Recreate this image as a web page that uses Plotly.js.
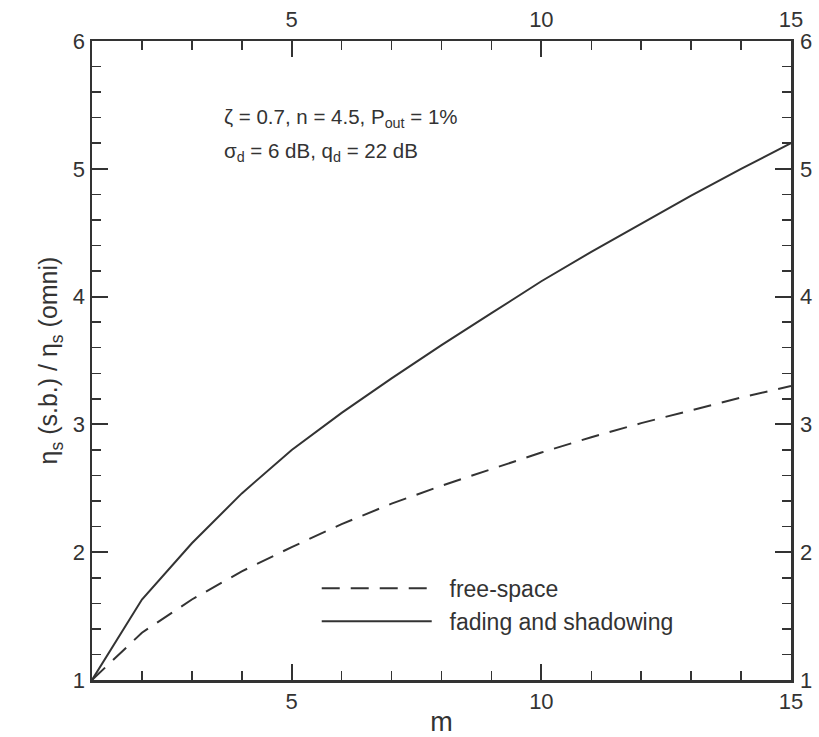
<!DOCTYPE html>
<html><head><meta charset="utf-8">
<script src="https://cdn.plot.ly/plotly-3.0.1.min.js"></script>
<style>html,body{margin:0;padding:0;background:#fff}#c{width:819px;height:737px}</style>
</head><body><div id="c"></div>
<script>
const m = [1,2,3,4,5,6,7,8,9,10,11,12,13,14,15];
const freeSpace = [1.00,1.37,1.63,1.85,2.04,2.22,2.38,2.52,2.65,2.78,2.90,3.01,3.11,3.21,3.30];
const fadingShadowing = [1.00,1.63,2.07,2.46,2.80,3.09,3.36,3.62,3.87,4.12,4.35,4.57,4.79,5.00,5.20];
const xTicks = [5,10,15];
const yTicks = [1,2,3,4,5,6];
const noteLines = ['ζ = 0.7, n = 4.5, P<sub>out</sub> = 1%', 'σ<sub>d</sub> = 6 dB, q<sub>d</sub> = 22 dB'];

const col = '#333';
const fam = 'Liberation Sans, Arial, sans-serif';
const fnt = {family:fam, size:22, color:col};
const traces = [
  {x:m, y:freeSpace, mode:'lines', name:'\u00a0\u00a0free-space', line:{color:col, width:2, dash:'18px,11px'}},
  {x:m, y:fadingShadowing, mode:'lines', name:'\u00a0\u00a0fading and shadowing', line:{color:col, width:2}},
  {x:[m[0]], y:[fadingShadowing[0]], xaxis:'x2', yaxis:'y2', mode:'markers', marker:{opacity:0}, showlegend:false, hoverinfo:'skip'}
];
const minorX = {dtick:1, ticks:'inside', ticklen:9, tickwidth:1.5, tickcolor:col, showgrid:false};
const minorY = {dtick:0.2, ticks:'inside', ticklen:9, tickwidth:1.5, tickcolor:col, showgrid:false};
const axBase = {showgrid:false, zeroline:false, showline:true, linecolor:col, linewidth:2.5,
  ticks:'inside', ticklen:16, tickwidth:2, tickcolor:col, tickfont:fnt};
const layout = {
  width:819, height:737, paper_bgcolor:'#fff', plot_bgcolor:'#fff',
  margin:{l:92, r:28, t:41, b:57},
  showlegend:true,
  legend:{x:0.3215, y:0.177, xanchor:'left', yanchor:'top', bgcolor:'rgba(0,0,0,0)', font:{family:fam, size:23, color:col}, itemwidth:110, tracegroupgap:0},
  xaxis:Object.assign({}, axBase, {range:[1,15], tickvals:xTicks, minor:minorX,
    title:{text:'m', font:{family:fam, size:27, color:col}, standoff:4}}),
  yaxis:Object.assign({}, axBase, {range:[1,6], tickvals:yTicks, minor:minorY,
    title:{text:'η<sub>s</sub> (s.b.) / η<sub>s</sub> (omni)', font:{family:fam, size:25, color:col}, standoff:8}}),
  xaxis2:Object.assign({}, axBase, {overlaying:'x', side:'top', range:[1,15], tickvals:xTicks, minor:minorX, ticklabelstandoff:3}),
  yaxis2:Object.assign({}, axBase, {overlaying:'y', side:'right', range:[1,6], tickvals:yTicks, minor:minorY, ticklabelstandoff:2}),
  annotations:noteLines.map((t, i) => ({xref:'x', yref:'y', x:3.6, y:5.40 - 0.27*i, xanchor:'left', yanchor:'middle',
    showarrow:false, align:'left', text:t, font:{family:fam, size:20.5, color:col}}))
};
Plotly.newPlot('c', traces, layout, {displayModeBar:false, staticPlot:true});
</script></body></html>
